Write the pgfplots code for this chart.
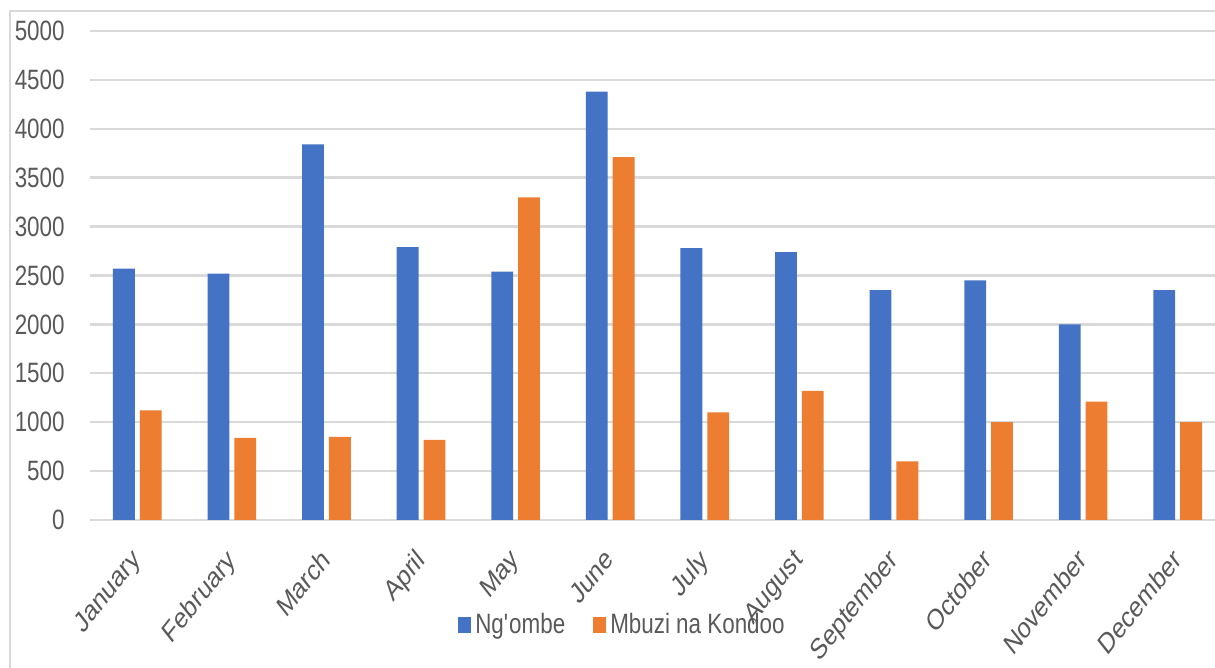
\documentclass[border=0pt]{standalone}
\usepackage{pgfplots}
\pgfplotsset{compat=1.18}
\usepackage{fontspec}
\setmainfont{Liberation Sans}[FakeStretch=0.8]
\newfontfamily\plainfont{Liberation Sans}
\definecolor{xblue}{HTML}{4472C4}
\definecolor{xorange}{HTML}{ED7D31}
\definecolor{xgrid}{HTML}{D9D9D9}
\definecolor{xtext}{HTML}{595959}
\begin{document}
\begin{tikzpicture}[x=1pt,y=1pt]
\useasboundingbox (0,0) rectangle (607.5,334);
% chart frame (left and top only visible)
\draw[xgrid, line width=1pt] (5,0) -- (5,328.5) -- (610,328.5);
\begin{axis}[
    at={(45pt,74pt)}, anchor=south west,
    scale only axis,
    width=567.5pt, height=244.5pt,
    ybar=2.5pt, bar width=10.9pt,
    xmin=-0.5, xmax=11.5,
    ymin=0, ymax=5000,
    ytick={0,500,...,5000},
    xtick={0,...,11},
    xticklabels={January,February,March,April,May,June,July,August,September,October,November,December},
    axis line style={draw=none},
    tick style={draw=none},
    ymajorgrids,
    major grid style={xgrid, line width=1.2pt},
    /pgf/number format/assume math mode=true,
    /pgf/number format/1000 sep={},
    yticklabel style={font=\fontsize{14}{14}\selectfont, text=xtext,
        anchor=east, inner sep=0pt, xshift=-12.5pt},
    % the reference is squeezed sideways: rotate, then squeeze x
    xticklabel style={font=\plainfont\fontsize{14.5}{14.5}\selectfont, text=xtext,
        xshift=-3.5pt, yshift=-9pt, xscale=0.79, rotate=45, anchor=north east, inner sep=0pt},
    legend style={at={(0.47,-0.215)}, anchor=center, draw=none, fill=none,
        legend columns=2, font=\fontsize{14}{14}\selectfont, text=xtext,
        /tikz/every even column/.append style={column sep=12pt}},
    legend image code/.code={\fill[#1] (0pt,-4pt) rectangle (6.5pt,4pt);},
]
\addplot[fill=xblue, draw=none] coordinates {
(0,2570) (1,2520) (2,3840) (3,2790) (4,2540) (5,4380)
(6,2780) (7,2740) (8,2350) (9,2450) (10,2000) (11,2350)};
\addplot[fill=xorange, draw=none] coordinates {
(0,1120) (1,840) (2,850) (3,820) (4,3300) (5,3710)
(6,1100) (7,1320) (8,600) (9,1000) (10,1210) (11,1000)};
\legend{Ng\textquotesingle ombe, Mbuzi na Kondoo}
\end{axis}
\end{tikzpicture}
\end{document}
